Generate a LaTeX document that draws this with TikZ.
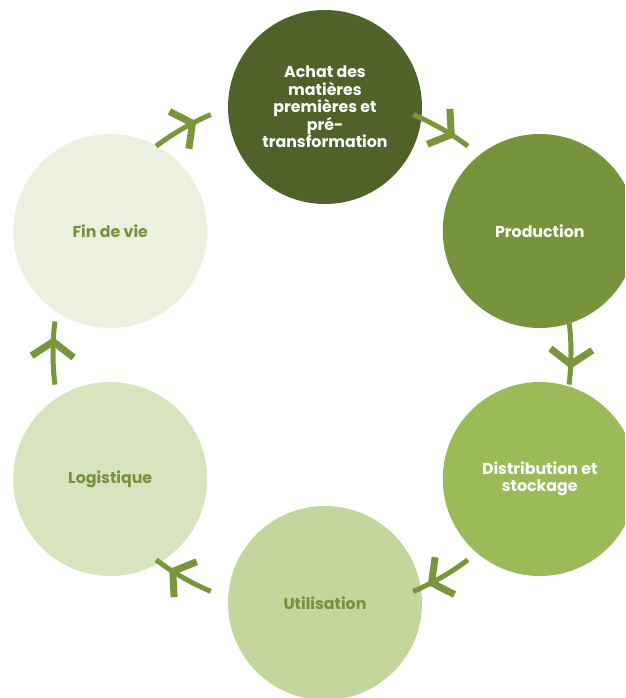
\documentclass[tikz,border=0pt]{standalone}
\usepackage{fontspec}
\newfontfamily\cyclefont{Poppins}
\usetikzlibrary{calc,decorations.markings}
\definecolor{oliveA}{RGB}{79,98,40}
\definecolor{oliveB}{RGB}{119,147,60}
\definecolor{oliveC}{RGB}{155,187,89}
\definecolor{oliveD}{RGB}{195,214,155}
\definecolor{oliveE}{RGB}{215,228,189}
\definecolor{oliveF}{RGB}{235,241,222}
\definecolor{olivetext}{RGB}{118,146,60}
\definecolor{arrowgreen}{RGB}{122,150,60}

\tikzset{
  stage/.style={circle, minimum size=194pt, inner sep=0pt, align=center,
    font=\cyclefont\bfseries\fontsize{15.8}{17.5}\selectfont},
  flow/.style={draw=arrowgreen, line width=5pt, postaction={decorate},
    decoration={markings, mark=at position 0.68 with {
      \draw[arrowgreen, line width=7pt, line join=miter] (-15pt,21pt) -- (0,0) -- (-15pt,-21pt);}}}
}

\begin{document}
\begin{tikzpicture}[x=1pt,y=1pt]
\useasboundingbox (0,0) rectangle (625,-698);
\clip (0,0) rectangle (625,-698);
\coordinate (hub) at (325,-355);
\coordinate (ring) at (312,-353);

% === Stages of the cycle ===
\node[stage, fill=oliveA, text=white] (achat) at ($(hub)+(90:248)$) {Achat des\\matières\\premières et\\pré-\\transformation};
\node[stage, fill=oliveB, text=white] (prod) at ($(hub)+(30:248)$) {Production};
\node[stage, fill=oliveC, text=white] (distrib) at ($(hub)+(-30:248)$) {Distribution et\\stockage};
\node[stage, fill=oliveD, text=olivetext] (util) at ($(hub)+(-90:248)$) {Utilisation};
\node[stage, fill=oliveE, text=olivetext] (logi) at ($(hub)+(210:248)$) {Logistique};
\node[stage, fill=oliveF, text=olivetext] (fin) at ($(hub)+(150:248)$) {Fin de vie};

% === Arrows between stages (clockwise) ===
\foreach \a/\n in {120/1, 60/2, 0/3, -60/4, -120/5, 180/6} {
  \coordinate (from\n) at ($(ring)+(\a+7:259)$);
  \draw[flow] (from\n) arc[start angle=\a+7, end angle=\a-7, radius=259pt];
}

\end{tikzpicture}
\end{document}
